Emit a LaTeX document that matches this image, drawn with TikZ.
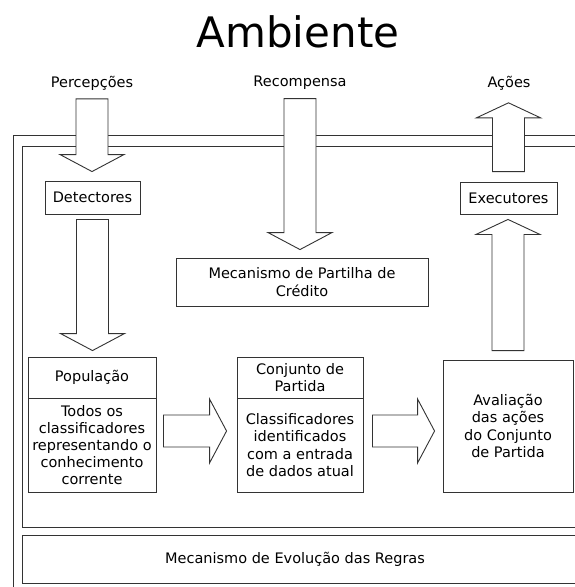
\documentclass[tikz,border=0pt]{standalone}
\usepackage{fontspec}
\setmainfont{DejaVu Sans}
\usetikzlibrary{calc}

\begin{document}
\begin{tikzpicture}[
    x=1pt, y=-1pt,
    line width=0.9pt,
    draw=black!80,
    every node/.style={font=\fontsize{14.5}{17.2}\selectfont},
    box/.style={draw=black!80, rectangle, inner sep=0pt, align=center},
    blockdown/.style={draw=black!80, fill=white, to path={let \p1=(\tikztostart), \p2=(\tikztotarget) in
        (\x1-16pt,\y1) -- (\x1-16pt,\y2+17pt) -- (\x1-32pt,\y2+17pt) -- (\x1,\y2)
        -- (\x1+32pt,\y2+17pt) -- (\x1+16pt,\y2+17pt) -- (\x1+16pt,\y1) -- cycle}},
    blockup/.style={draw=black!80, fill=white, to path={let \p1=(\tikztostart), \p2=(\tikztotarget) in
        (\x1-16pt,\y1) -- (\x1-16pt,\y2-15pt) -- (\x1-32pt,\y2-15pt) -- (\x1,\y2)
        -- (\x1+32pt,\y2-15pt) -- (\x1+16pt,\y2-15pt) -- (\x1+16pt,\y1) -- cycle}},
    blockright/.style={draw=black!80, fill=white, to path={let \p1=(\tikztostart), \p2=(\tikztotarget) in
        (\x1,\y1+16pt) -- (\x2-17pt,\y1+16pt) -- (\x2-17pt,\y1+32pt) -- (\x2,\y1)
        -- (\x2-17pt,\y1-32pt) -- (\x2-17pt,\y1-16pt) -- (\x1,\y1-16pt) -- cycle}}
]

\clip (0,0) rectangle (575,587);

% Title and outside signals
\node (env) at (298,32) {\fontsize{42}{50}\selectfont Ambiente};
\node (perc) at (92,83) {Percepções};
\node (rec) at (300,83) {Recompensa};
\node (act) at (509,83) {Ações};

% Frames (run off the right edge)
\draw (600,135) -- (13,135) -- (13,600);
\draw (600,146) -- (22,146) -- (22,527) -- (600,527);
\draw (600,535) -- (22,535) -- (22,583) -- (600,583);
\node (evol) at (295,559) {Mecanismo de Evolução das Regras};

% Boxes
\node[box, minimum width=95pt, minimum height=33pt] (det) at (92.5,197.5) {Detectores};
\node[box, minimum width=97pt, minimum height=32pt] (exec) at (508.5,198) {Executores};
\node[box, minimum width=252pt, minimum height=48pt] (credit) at (302,282) {Mecanismo de Partilha de\\Crédito};

\node[box, minimum width=128pt, minimum height=41pt] (pophead) at (92,377.5) {População};
\node[box, minimum width=128pt, minimum height=94pt] (popbody) at (92,445)
    {Todos os\\classificadores\\representando o\\conhecimento\\corrente};
\node[box, minimum width=126pt, minimum height=41pt] (conjhead) at (300,377.5) {Conjunto de\\Partida};
\node[box, minimum width=126pt, minimum height=94pt] (conjbody) at (300,445)
    {Classificadores\\identificados\\com a entrada\\de dados atual};
\node[box, minimum width=130pt, minimum height=132pt] (aval) at (508,426)
    {Avaliação\\das ações\\do Conjunto\\de Partida};

% Block arrows
\draw[blockdown] ([yshift=-5pt]perc.south) to ([yshift=9pt]det.north);
\draw[blockdown] ([yshift=-5pt]det.south) to ([yshift=6pt]pophead.north);
\draw[blockdown] ([yshift=-5pt]rec.south) to ([yshift=8pt]credit.north);
\draw[blockup] ([yshift=10pt]exec.north) to ([yshift=-9pt]act.south);
\draw[blockup] ([yshift=9pt]aval.north) to ([yshift=-5pt]exec.south);
\draw[blockright] ([xshift=7pt,yshift=14pt]popbody.east) to ([xshift=-10pt,yshift=14pt]conjbody.west);
\draw[blockright] ([xshift=9pt,yshift=14pt]conjbody.east) to ([xshift=-8pt,yshift=-5pt]aval.west);

\end{tikzpicture}
\end{document}
